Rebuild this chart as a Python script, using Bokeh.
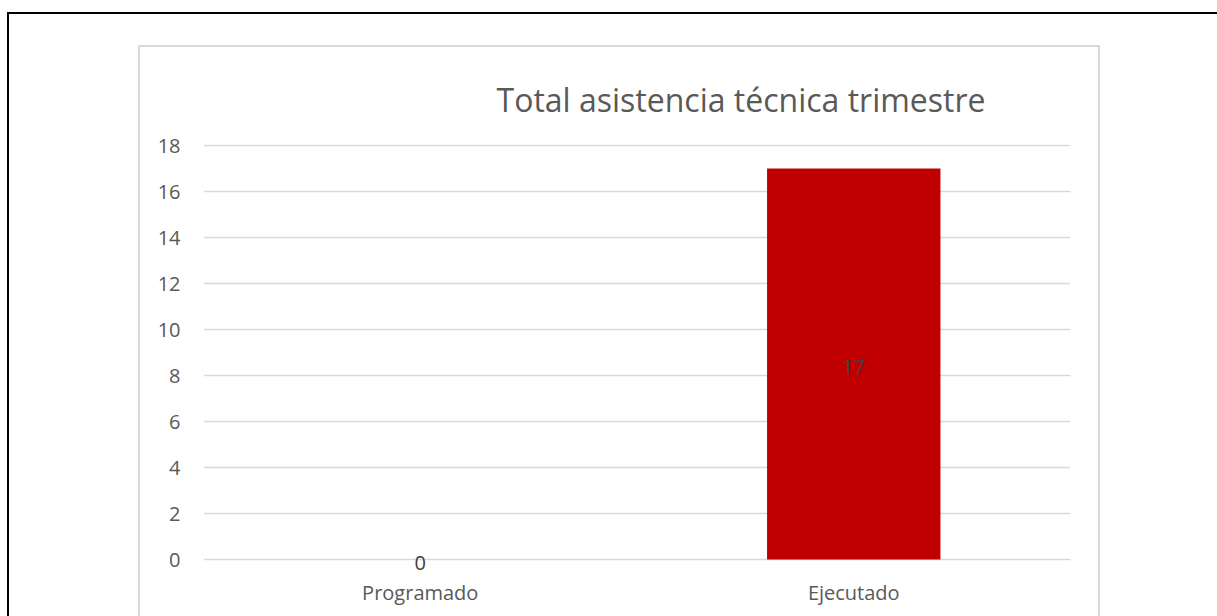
from bokeh.plotting import figure
from bokeh.models import FactorRange, Range1d, FixedTicker, ColumnDataSource, Title, InlineStyleSheet
from bokeh.core.properties import value
from bokeh.embed import file_html
from bokeh.resources import INLINE

categories = ["Programado", "Ejecutado"]
values = [0, 17]
y_ticks = [0, 2, 4, 6, 8, 10, 12, 14, 16, 18]
title_text = "Total asistencia técnica trimestre"

FONT = "Open Sans"
W, H = 1217, 616
PX = 23.0  # pixels per unit on the value axis

source = ColumnDataSource(dict(
    cat=categories,
    val=values,
    mid=[v / 2 for v in values],
    label=[str(v) for v in values],
))

p = figure(
    x_range=FactorRange(*categories, range_padding=0),
    y_range=Range1d(start=-16 / PX, end=18 + 1 / PX),
    width=W, height=H,
    output_backend="svg",
    toolbar_location=None,
    min_border_left=203, min_border_right=147,
    min_border_top=144, min_border_bottom=41,
)
p.outline_line_color = None
p.background_fill_color = "white"
p.border_fill_color = "white"

t = Title(text=title_text, align="left", offset=293,
          text_font=FONT, text_font_size="32px", text_font_style="normal",
          text_color="#595959", standoff=47)
p.add_layout(t, "above")

p.vbar(x="cat", top="val", bottom=0, width=0.4, source=source,
       fill_color="#C00000", line_color=None)
p.text(x="cat", y="mid", text="label", source=source,
       text_align="center", text_baseline="middle", y_offset=3,
       text_font=value(FONT), text_font_size="20px", text_color="#404040")

# axes
p.yaxis.ticker = FixedTicker(ticks=y_ticks)
p.yaxis.axis_line_color = None
p.yaxis.major_tick_line_color = None
p.yaxis.minor_tick_line_color = None
p.yaxis.major_tick_out = 0
p.yaxis.major_tick_in = 0
p.yaxis.major_label_standoff = 23
p.yaxis.major_label_text_font = FONT
p.yaxis.major_label_text_font_size = "20px"
p.yaxis.major_label_text_color = "#595959"

p.xaxis.axis_line_color = None
p.xaxis.major_tick_line_color = None
p.xaxis.major_tick_out = 0
p.xaxis.major_tick_in = 0
p.xaxis.major_label_standoff = 3
p.xaxis.major_label_text_font = FONT
p.xaxis.major_label_text_font_size = "20px"
p.xaxis.major_label_text_color = "#595959"

p.xgrid.grid_line_color = None
p.ygrid.grid_line_color = "#d9d9d9"
p.ygrid.grid_line_width = 1.3

# chart-area border (light gray) and outer page border (black), drawn as CSS overlays
css = """
:host { position: relative; }
:host::before {
  content: ""; position: absolute; box-sizing: border-box;
  left: 138px; top: 45px; width: 962px; height: 571px;
  border-left: 2px solid #d9d9d9; border-top: 2px solid #d9d9d9; border-right: 2px solid #d9d9d9;
  pointer-events: none; z-index: 5;
}
:host::after {
  content: ""; position: absolute; box-sizing: border-box;
  left: 7px; top: 12px; width: 1210px; height: 604px;
  border-left: 2px solid #000000; border-top: 2px solid #000000;
  pointer-events: none; z-index: 6;
}
"""
p.stylesheets.append(InlineStyleSheet(css=css))

open("out.html", "w").write(file_html(p, INLINE))
